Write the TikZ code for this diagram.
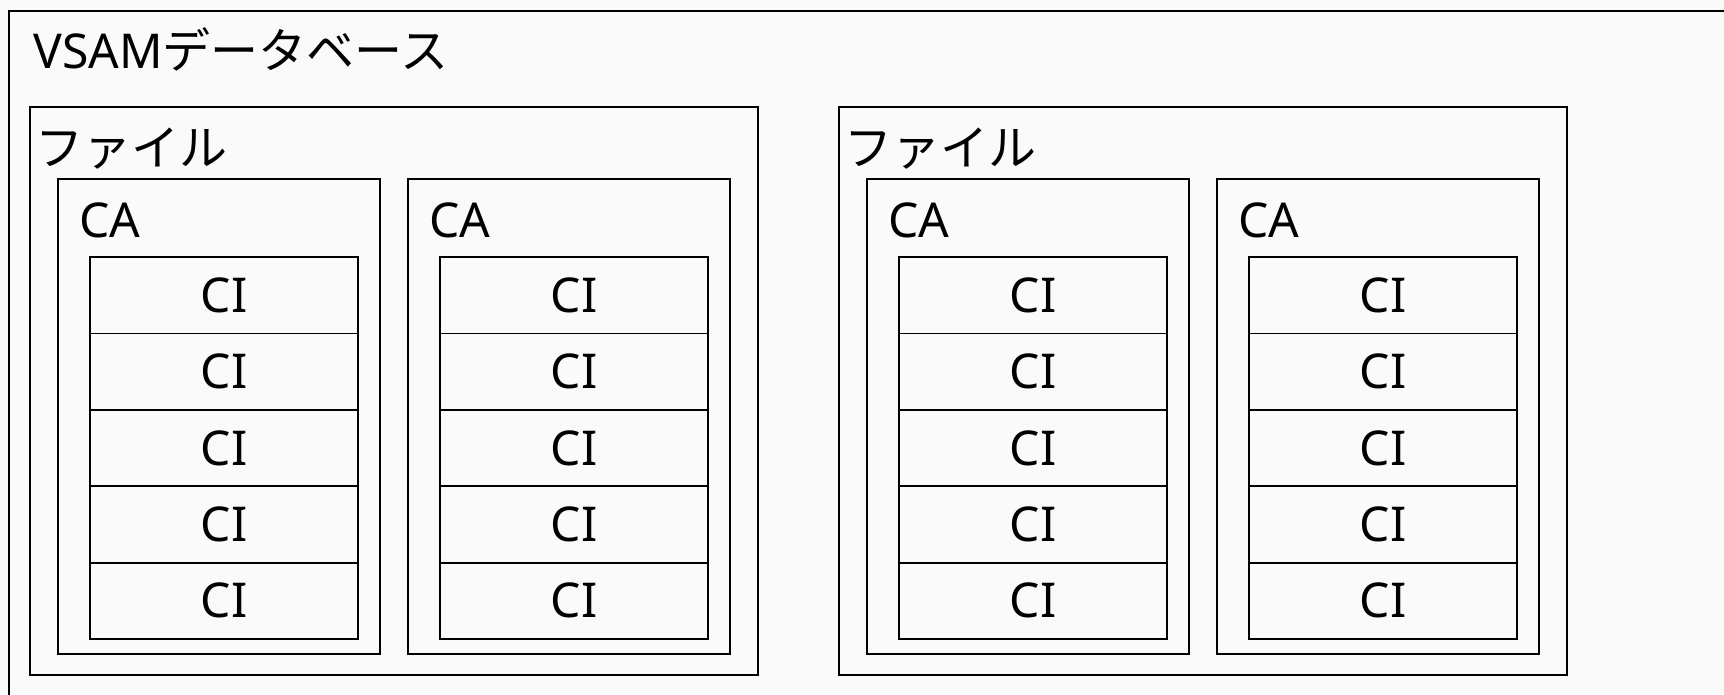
\documentclass[tikz,border=0pt]{standalone}
\usepackage{fontspec}
\setmainfont{Noto Sans}
\newfontfamily\jpfont{Noto Sans CJK JP}
\usetikzlibrary{positioning}

\begin{document}
\begin{tikzpicture}[x=1pt, y=-1pt,
  every node/.style={font=\fontsize{48}{56}\selectfont},
  box/.style={draw, line width=1.8pt, inner sep=0pt, outer sep=0pt, anchor=north west},
  dbbox/.style={box, minimum width=1760pt, minimum height=720pt},
  filebox/.style={box, minimum width=728pt, minimum height=568pt},
  cabox/.style={box, minimum width=322pt, minimum height=475pt},
  cibox/.style={box, minimum width=268pt, minimum height=76.4pt},
  tag/.style={inner sep=0pt, anchor=base west}
]
  \useasboundingbox (0,0) rectangle (1724,694);
  \clip (0,0) rectangle (1724,694);
  \fill[black!2] (0,0) rectangle (1724,694);
  % database
  \node[dbbox] (db) at (9,11) {};
  \node[tag] (db-name) at ([shift={(24,57)}]db.north west) {VSAM{\jpfont データベース}};
  % files, each with two CA
  \foreach \f/\fx in {1/30, 2/839} {
    \node[filebox] (file-\f) at (\fx,107) {};
    \node[tag] (file-\f-name) at ([shift={(5,58)}]file-\f.north west) {\jpfont ファイル};
    \foreach \c/\cx in {1/28, 2/378} {
      \node[cabox] (ca-\f-\c) at ([shift={(\cx,72)}]file-\f.north west) {};
      \node[tag] (ca-\f-\c-name) at ([shift={(21,58)}]ca-\f-\c.north west) {CA};
      \node[cibox] (ci-\f-\c-1) at ([shift={(32,78)}]ca-\f-\c.north west) {CI};
      \foreach \r [remember=\r as \p (initially 1)] in {2,...,5}
        \node[cibox, below=0pt of ci-\f-\c-\p] (ci-\f-\c-\r) {CI};
    }
  }
\end{tikzpicture}
\end{document}
